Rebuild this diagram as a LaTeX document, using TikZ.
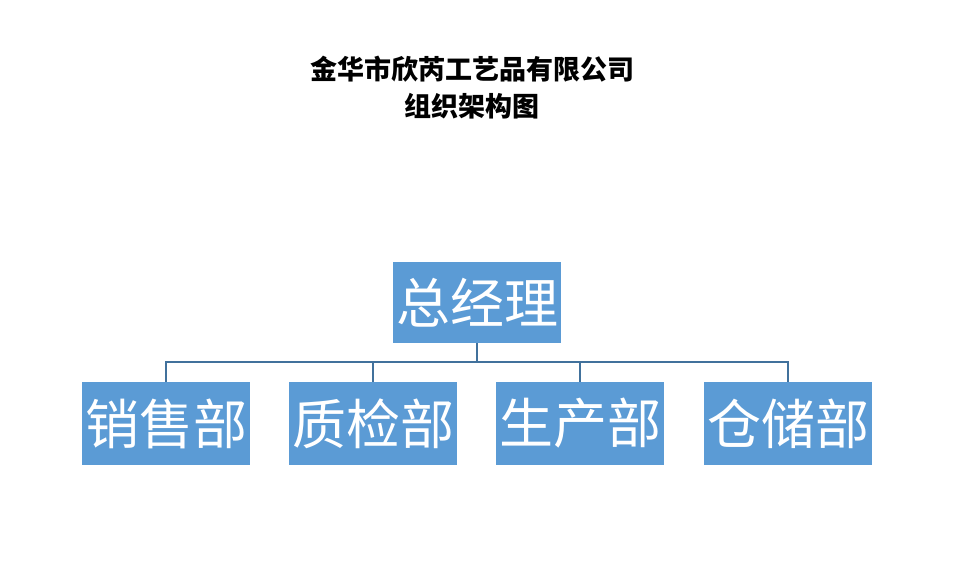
\documentclass[tikz,border=0pt]{standalone}
\usepackage{fontspec}
\newfontfamily\cjk{Noto Sans CJK SC}
\usetikzlibrary{positioning}
\definecolor{boxblue}{HTML}{5B9BD5}
\definecolor{lineblue}{HTML}{41719C}
\tikzset{
  dept/.style={fill=boxblue, text=white, minimum width=168pt, minimum height=83pt,
    inner sep=0pt, font=\cjk\fontsize{54}{54}\selectfont},
  link/.style={draw=lineblue, line width=1.5pt}
}

\begin{document}
\begin{tikzpicture}[x=1pt,y=-1pt]
\useasboundingbox (0,0) rectangle (954,585);
\node[font=\cjk\bfseries\fontsize{27}{37}\selectfont, align=center] (title) at (472,88)
  {金华市欣芮工艺品有限公司\\组织架构图};
% top level
\node[dept, minimum height=81pt] (gm) at (477,302.5) {总经理};
% departments
\node[dept] (sales) at (166,423.5) {销售部};
\node[dept] (qc) at (373,423.5) {质检部};
\node[dept] (prod) at (580,423.5) {生产部};
\node[dept] (store) at (788,423.5) {仓储部};
\coordinate (bus) at (477,362);
\draw[link] (gm.south) -- (bus);
\foreach \d in {sales,qc,prod,store}
  \draw[link] (\d.north) |- (bus);
\end{tikzpicture}
\end{document}
